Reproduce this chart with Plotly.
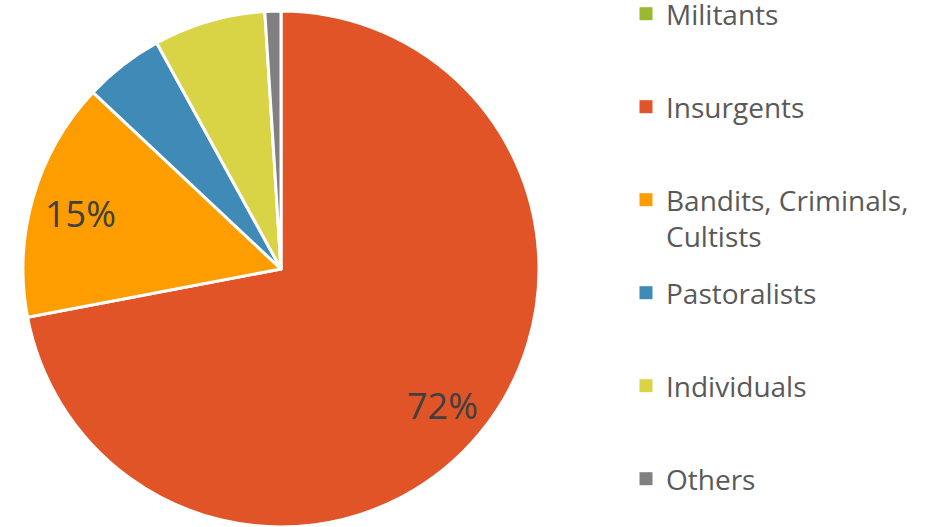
import math
import plotly.graph_objects as go

# ---- data ----
categories = ["Militants", "Insurgents", "Bandits, Criminals,<br>Cultists",
              "Pastoralists", "Individuals", "Others"]
shares = [0, 72, 15, 5, 7, 1]
colors = ["#9BB82F", "#E05427", "#FD9D00", "#3F8AB6", "#D9D445", "#808080"]
label_on = [False, True, True, False, False, False]

W, H = 932, 527
MT, MB = 11, 0
PLOT_H = H - MT - MB
PIE_X1 = 562 / W
FONT = "'Open Sans', Lato, sans-serif"

fig = go.Figure()
fig.add_trace(go.Pie(
    labels=categories,
    values=shares,
    sort=False,
    direction="clockwise",
    rotation=0,
    marker=dict(colors=colors, line=dict(color="white", width=3)),
    textinfo="none",
    domain=dict(x=[0, PIE_X1], y=[0, 1]),
    showlegend=False,
    hoverinfo="label+percent",
))

# percentage labels on each slice's mid-angle, at ~0.81 of the radius
cx_px = PIE_X1 * W / 2
cy_px = MT + PLOT_H / 2
R_px = min(PIE_X1 * W, PLOT_H) / 2
total = sum(shares)
cum = 0
for v, on in zip(shares, label_on):
    mid = (cum + v / 2) / total * 2 * math.pi
    cum += v
    if not on:
        continue
    px = cx_px + 0.81 * R_px * math.sin(mid)
    py = cy_px - 0.81 * R_px * math.cos(mid) + 3
    fig.add_annotation(
        x=px / W, y=1 - (py - MT) / PLOT_H, xref="paper", yref="paper",
        text=f"{round(v / total * 100)}%", showarrow=False,
        font=dict(family=FONT, size=36, color="#404040"),
        xanchor="center", yanchor="middle",
    )

# legend: one small legend per category, evenly spaced
step_px = 93
first_center_px = 16
legend_layout = {}
for i, (cat, col) in enumerate(zip(categories, colors)):
    name = "legend" if i == 0 else f"legend{i + 1}"
    fig.add_trace(go.Scatter(
        x=[None], y=[None], mode="markers", name=cat,
        marker=dict(symbol="square", size=13, color=col),
        legend=name, showlegend=True, hoverinfo="skip",
    ))
    top_px = first_center_px + i * step_px - 27
    legend_layout[name] = dict(
        x=626 / W, xanchor="left",
        y=1 - (top_px - MT) / PLOT_H, yanchor="top",
        valign="top",
        font=dict(family=FONT, size=28, color="#595959"),
        bgcolor="rgba(0,0,0,0)",
    )

fig.update_layout(
    width=W, height=H,
    margin=dict(l=0, r=0, t=MT, b=MB, autoexpand=False),
    paper_bgcolor="white",
    plot_bgcolor="white",
    xaxis=dict(visible=False),
    yaxis=dict(visible=False),
    **legend_layout,
)

fig.write_html(
    "out.html",
    config={"displayModeBar": False},
    post_script="document.body.style.margin='0';",
)
